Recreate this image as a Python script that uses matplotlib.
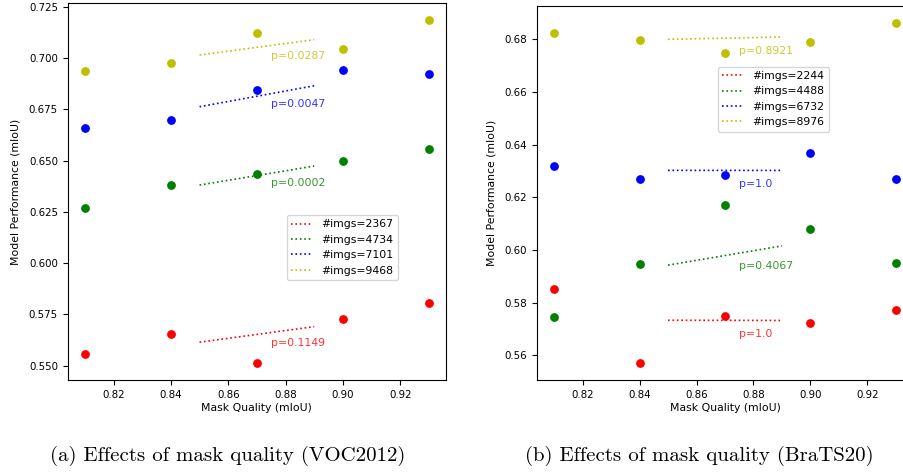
import numpy as np
import matplotlib
matplotlib.use("Agg")
import matplotlib.pyplot as plt

mask_quality = [0.81, 0.84, 0.87, 0.90, 0.93]
colors = ['r', 'g', 'b', 'y']

# VOC2012
voc_labels = ['#imgs=2367', '#imgs=4734', '#imgs=7101', '#imgs=9468']
voc_perf = [
    [0.5557, 0.5656, 0.5513, 0.5728, 0.5805],
    [0.6267, 0.6381, 0.6433, 0.6496, 0.6557],
    [0.6661, 0.6700, 0.6843, 0.6942, 0.6923],
    [0.6939, 0.6975, 0.7121, 0.7042, 0.7185],
]
voc_p = ['p=0.1149', 'p=0.0002', 'p=0.0047', 'p=0.0287']

# BraTS20
brats_labels = ['#imgs=2244', '#imgs=4488', '#imgs=6732', '#imgs=8976']
brats_perf = [
    [0.5850, 0.5571, 0.5750, 0.5722, 0.5771],
    [0.5746, 0.5945, 0.6170, 0.6081, 0.5952],
    [0.6320, 0.6268, 0.6284, 0.6369, 0.6268],
    [0.6824, 0.6796, 0.6749, 0.6787, 0.6861],
]
brats_p = ['p=1.0', 'p=0.4067', 'p=1.0', 'p=0.8921']

fit_x = [0.85, 0.89]
text_x = 0.875


def draw(ax, perf, labels, pvals, legend_anchor):
    for idx, y in enumerate(perf):
        c = colors[idx]
        ax.scatter(mask_quality, y, color=c, s=28, zorder=3)
        k, b = np.polyfit(mask_quality, y, 1)
        fx = np.array(fit_x)
        ax.plot(fx, k * fx + b, linestyle=':', color=c, linewidth=1.2, label=labels[idx])
        ax.text(text_x, k * text_x + b - 0.005, pvals[idx], color=c, alpha=0.8,
                fontsize=7.8, va='center', ha='left')
    ax.set_xlabel("Mask Quality (mIoU)", fontsize=7.8, labelpad=2.2)
    ax.set_ylabel("Model Performance (mIoU)", fontsize=7.8, labelpad=6)
    ax.tick_params(labelsize=7.4, length=3.5, pad=3.5)
    ax.set_xticks([0.82, 0.84, 0.86, 0.88, 0.90, 0.92])
    ax.legend(loc='upper left', bbox_to_anchor=legend_anchor, borderaxespad=0,
              fontsize=7.8, handlelength=2.0)


fig = plt.figure(figsize=(9.04, 4.72), dpi=100)
ax1 = fig.add_axes([0.0749, 0.1949, 0.4185, 0.7987])
ax2 = fig.add_axes([0.594, 0.1949, 0.416, 0.7924])

draw(ax1, voc_perf, voc_labels, voc_p, (0.579, 0.4377))
draw(ax2, brats_perf, brats_labels, brats_p, (0.4806, 0.8377))

fig.text(0.252, 0.033, "(a) Effects of mask quality (VOC2012)", family='cmr10',
         fontsize=15, ha='center', va='center')
fig.text(0.774, 0.033, "(b) Effects of mask quality (BraTS20)", family='cmr10',
         fontsize=15, ha='center', va='center')

fig.savefig("out.png", dpi=100)
